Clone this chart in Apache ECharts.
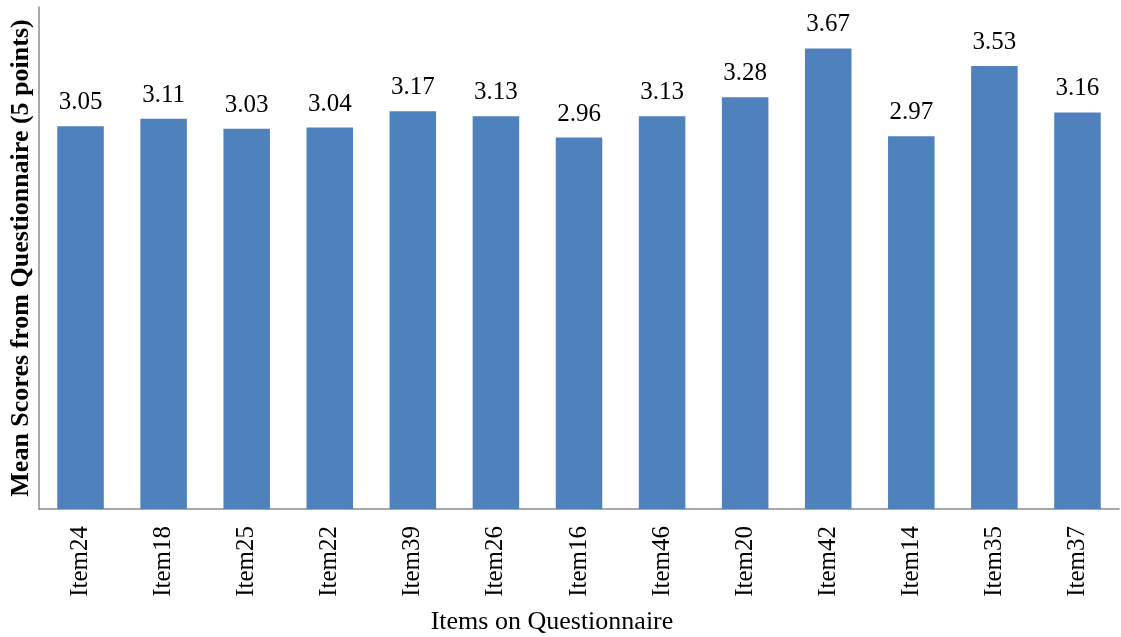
<!DOCTYPE html>
<html>
<head>
<meta charset="utf-8">
<script src="https://cdn.jsdelivr.net/npm/echarts@6/dist/echarts.min.js"></script>
<style>
  html, body { margin: 0; padding: 0; background: #fff; }
  #main { width: 1121px; height: 637px; }
</style>
</head>
<body>
<div id="main"></div>
<script>
let items = ['Item24', 'Item18', 'Item25', 'Item22', 'Item39', 'Item26', 'Item16', 'Item46', 'Item20', 'Item42', 'Item14', 'Item35', 'Item37'];
let means = [3.05, 3.11, 3.03, 3.04, 3.17, 3.13, 2.96, 3.13, 3.28, 3.67, 2.97, 3.53, 3.16];

let font = '"Liberation Serif", "DejaVu Serif", serif';
let myChart = echarts.init(document.getElementById('main'));
let option = {
    animation: false,
    grid: {
        left: 39,
        right: 2,
        top: 7,
        bottom: 128,
        outerBoundsMode: 'none'
    },
    xAxis: {
        type: 'category',
        data: items,
        name: 'Items on Questionnaire',
        nameLocation: 'middle',
        nameGap: 100,
        nameTextStyle: { fontFamily: font, fontSize: 26, color: '#000', padding: [0, 54, 0, 0] },
        axisLine: { lineStyle: { color: '#8c8c8c', width: 1.5 } },
        axisTick: { show: false },
        axisLabel: {
            rotate: 90,
            interval: 0,
            margin: 17,
            fontFamily: font,
            fontSize: 25,
            color: '#000'
        }
    },
    yAxis: {
        type: 'value',
        min: 0,
        max: 4,
        name: 'Mean Scores from Questionnaire (5 points)',
        nameLocation: 'middle',
        nameGap: 5,
        nameTextStyle: { fontFamily: font, fontSize: 26, fontWeight: 'bold', color: '#000' },
        axisLine: { show: true, lineStyle: { color: '#8c8c8c', width: 1.5 } },
        axisTick: { show: false },
        axisLabel: { show: false },
        splitLine: { show: false }
    },
    series: [
        {
            type: 'bar',
            data: means,
            barWidth: '56%',
            itemStyle: { color: '#4f81bd' },
            label: {
                show: true,
                position: 'top',
                distance: 11,
                fontFamily: font,
                fontSize: 25,
                color: '#000',
                formatter: function (p) { return p.value.toFixed(2); }
            }
        }
    ]
};
myChart.setOption(option);
</script>
</body>
</html>
